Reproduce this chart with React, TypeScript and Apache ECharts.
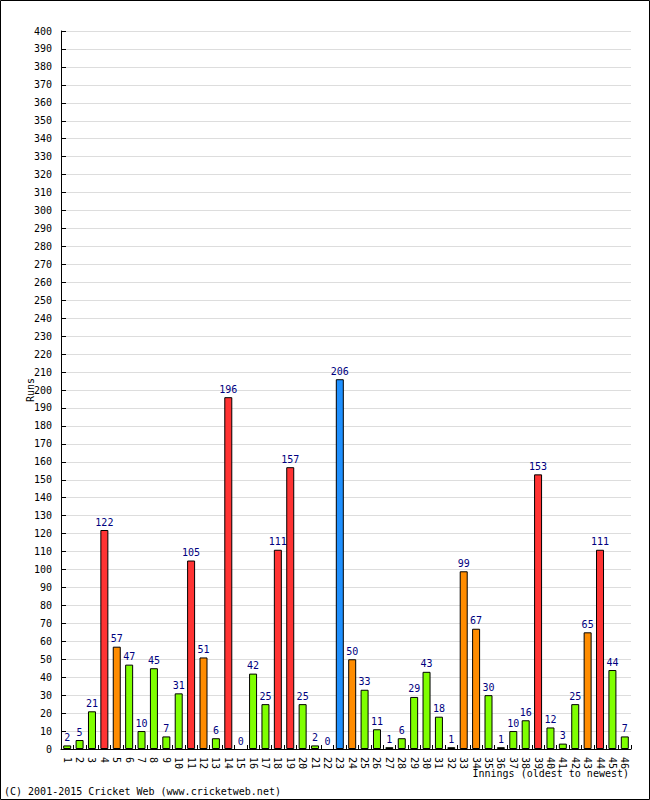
import React, { useEffect, useRef } from "react";
import * as echarts from "echarts";

const innings = Array.from({ length: 46 }, (_, i) => String(i + 1));
const runs = [
  2, 5, 21, 122, 57, 47, 10, 45, 7, 31, 105, 51, 6, 196, 0, 42, 25, 111, 157, 25,
  2, 0, 206, 50, 33, 11, 1, 6, 29, 43, 18, 1, 99, 67, 30, 1, 10, 16, 153, 12,
  3, 25, 65, 111, 44, 7,
];
const yTicks = { min: 0, max: 400, interval: 10 };

const colorFor = (v: number) =>
  v >= 200 ? "#1e90ff" : v >= 100 ? "#ff3333" : v >= 50 ? "#ff8c00" : "#7fff00";

const FONT = "DejaVu Sans Mono";
const FS = 10;

export default function App() {
  const ref = useRef<HTMLDivElement>(null);
  useEffect(() => {
    document.body.style.margin = "0";
    const chart = echarts.init(ref.current!, null, { renderer: "svg" });
    chart.setOption({
      animation: false,
      backgroundColor: "#ffffff",
      grid: { left: 61, right: 19, top: 31, bottom: 51 },
      xAxis: {
        type: "category",
        data: innings,
        boundaryGap: true,
        axisLine: { lineStyle: { color: "#000", width: 1 } },
        axisTick: { show: true, inside: true, length: 4, lineStyle: { color: "#000" } },
        axisLabel: {
          interval: 0,
          rotate: -90,
          margin: 8,
          color: "#000",
          fontFamily: FONT,
          fontSize: FS,
        },
        splitLine: { show: false },
      },
      yAxis: {
        type: "value",
        min: yTicks.min,
        max: yTicks.max,
        interval: yTicks.interval,
        name: "Runs",
        nameLocation: "middle",
        nameGap: 26,
        nameMoveOverlap: false,
        nameRotate: 90,
        nameTextStyle: { color: "#000", fontFamily: FONT, fontSize: FS },
        axisLine: { show: true, lineStyle: { color: "#000", width: 1 } },
        axisTick: { show: true, inside: true, length: 5, lineStyle: { color: "#000" } },
        axisLabel: { color: "#000", fontFamily: FONT, fontSize: FS, margin: 9 },
        splitLine: { show: true, lineStyle: { color: "#dddddd", width: 1 } },
      },
      series: [
        {
          type: "bar",
          barWidth: 8,
          data: runs.map((v) => ({
            value: v,
            itemStyle: {
              color: colorFor(v),
              borderColor: "#000",
              borderWidth: v === 0 ? 0 : 1,
            },
          })),
          label: {
            show: true,
            position: "top",
            distance: 3,
            color: "#000080",
            fontFamily: FONT,
            fontSize: FS,
          },
        },
      ],
      graphic: [
        {
          type: "rect",
          shape: { x: 0.5, y: 0.5, width: 649, height: 799 },
          style: { fill: "none", stroke: "#000", lineWidth: 1 },
          silent: true,
        },
        {
          type: "text",
          right: 21,
          top: 768,
          style: {
            text: "Innings (oldest to newest)",
            fill: "#000",
            font: `${FS}px "${FONT}"`,
          },
        },
        {
          type: "text",
          left: 4,
          top: 786,
          style: {
            text: "(C) 2001-2015 Cricket Web (www.cricketweb.net)",
            fill: "#000",
            font: `${FS}px "${FONT}"`,
          },
        },
      ],
    });
    return () => chart.dispose();
  }, []);
  return (
    <div
      ref={ref}
      style={{ position: "absolute", left: 0, top: 0, width: 650, height: 800 }}
    />
  );
}
